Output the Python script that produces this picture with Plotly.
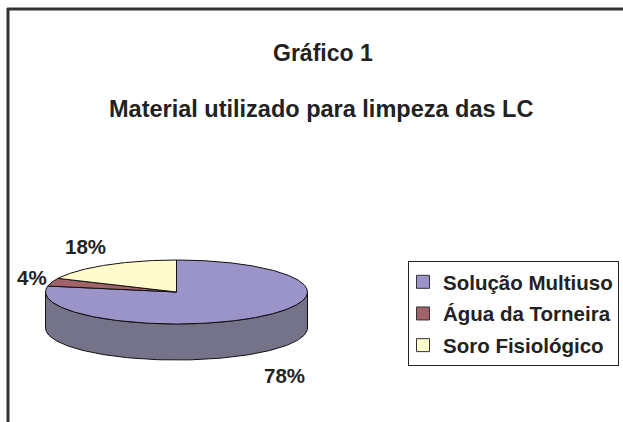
import numpy as np
import plotly.graph_objects as go

# ---- data ----
labels = ["Solução Multiuso", "Água da Torneira", "Soro Fisiológico"]
values = [78, 4, 18]
title_main = "Gráfico 1"
title_sub = "Material utilizado para limpeza das LC"

# ---- styles ----
face_colors = ["#9a94c9", "#a0636a", "#fffbcc"]
side_colors = ["#74738a", "#6e4449", "#aaaa88"]
label_pos = [(284, 375), (32, 277), (85, 246)]  # label positions (px) per slice
FONT = "Arial, Liberation Sans, sans-serif"

# pie geometry in pixel space
cx, cy, a, b, depth = 176.5, 292, 131, 32, 36

fig = go.Figure()

total = float(sum(values))
angles = []
start = 0.0
for v in values:
    end = start + v / total * 360.0
    angles.append((start, end))
    start = end

def ell(th_deg, dy=0.0):
    th = np.radians(th_deg)
    return cx + a * np.sin(th), cy - b * np.cos(th) + dy

# side walls (front half only)
for (t1, t2), sc in zip(angles, side_colors):
    lo, hi = max(t1, 90.0), min(t2, 270.0)
    if lo < hi:
        th = np.linspace(lo, hi, 120)
        xt, yt = ell(th)
        xb, yb = ell(th[::-1], depth)
        fig.add_trace(go.Scatter(
            x=np.concatenate([xt, xb, xt[:1]]), y=np.concatenate([yt, yb, yt[:1]]),
            mode="lines", fill="toself", fillcolor=sc,
            line=dict(color="#111", width=1), hoverinfo="skip", showlegend=False))

# top faces
for (t1, t2), fc in zip(angles, face_colors):
    n = max(int((t2 - t1) * 2), 8)
    th = np.linspace(t1, t2, n)
    xa, ya = ell(th)
    fig.add_trace(go.Scatter(
        x=np.concatenate([[cx], xa, [cx]]), y=np.concatenate([[cy], ya, [cy]]),
        mode="lines", fill="toself", fillcolor=fc,
        line=dict(color="#111", width=1), hoverinfo="skip", showlegend=False))

# legend entries
for lab, fc in zip(labels, face_colors):
    fig.add_trace(go.Scatter(
        x=[None], y=[None], mode="markers", name=lab, legendgroup=lab,
        marker=dict(symbol="square", size=13, color=fc, line=dict(color="#333", width=1))))

annotations = [
    dict(x=323, y=53, text=title_main, font=dict(size=23, family=FONT, color="#222", weight="bold")),
    dict(x=321, y=109, text=title_sub, font=dict(size=23.5, family=FONT, color="#222", weight="bold")),
]
for v, (lx, ly) in zip(values, label_pos):
    annotations.append(dict(x=lx, y=ly, text=f"{v}%",
                            font=dict(size=20.5, family=FONT, color="#222", weight="bold")))

anns = []
for an in annotations:
    d = dict(xref="x", yref="y", showarrow=False, xanchor="center", yanchor="middle")
    d.update(an)
    anns.append(d)

fig.update_layout(
    width=623, height=422,
    margin=dict(l=0, r=0, t=0, b=0),
    paper_bgcolor="white", plot_bgcolor="white",
    xaxis=dict(range=[0, 623], visible=False, fixedrange=True),
    yaxis=dict(range=[422, 0], visible=False, fixedrange=True),
    annotations=anns,
    showlegend=True,
    legend=dict(x=408 / 623, y=1 - 261 / 422, xanchor="left", yanchor="top",
                bordercolor="#222", borderwidth=1, bgcolor="white",
                font=dict(size=20.5, family=FONT, color="#222", weight="bold"),
                tracegroupgap=2, itemwidth=30, indentation=-6),
    shapes=[
        dict(type="line", xref="x", yref="y", x0=7, x1=623, y0=9, y1=9, line=dict(color="#333", width=3)),
        dict(type="line", xref="x", yref="y", x0=8, x1=8, y0=8, y1=422, line=dict(color="#333", width=3)),
    ],
)

fig.write_html("out.html", config={"displayModeBar": False},
               post_script="document.body.style.margin='0px';")
